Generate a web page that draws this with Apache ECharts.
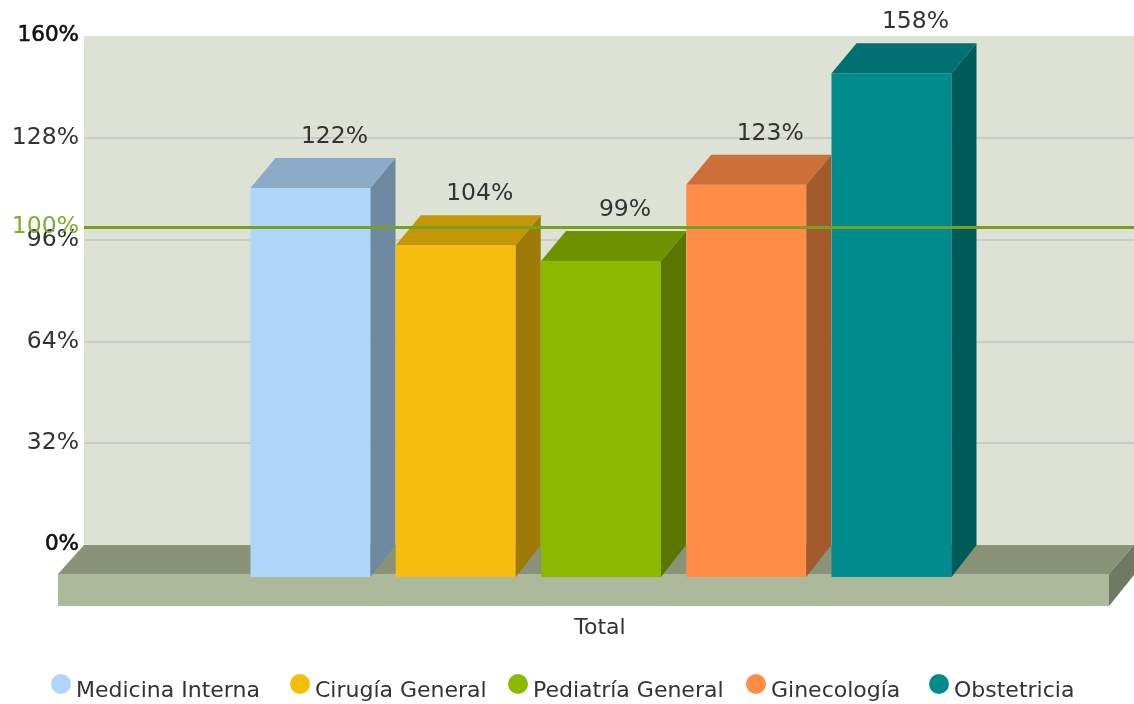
<!DOCTYPE html>
<html>
<head>
<meta charset="utf-8">
<title>Total</title>
<script src="https://cdn.jsdelivr.net/npm/echarts@6/dist/echarts.min.js"></script>
<style>
html, body { margin: 0; padding: 0; background: #fff; }
#main { width: 1134px; height: 704px; }
</style>
</head>
<body>
<div id="main"></div>
<script>
var categories = ['Total'];
var services = ['Medicina Interna', 'Cirugía General', 'Pediatría General', 'Ginecología', 'Obstetricia'];
var percentages = [122, 104, 99, 123, 158];
var targetLine = [100];
var yMax = 160;
var yStep = 32;

// colores de cada cara de la barra
var frontColors = ['#AED6F8', '#F6BC0E', '#8BB900', '#FF8C47', '#008C8C'];
var topColors = ['#8BABC6', '#C59708', '#6F9300', '#CC6F38', '#007070'];
var sideColors = ['#6E88A0', '#9E7A08', '#587600', '#A35A2D', '#005B5B'];
var legendLeft = [51, 290, 508, 746, 929];

var DEPTH_X = 25;
var DEPTH_Y = 30;
var BAR_W = 120;
var BAR_PITCH = 145.25;
var FONT = '"DejaVu Sans", Verdana, sans-serif';

var myChart = echarts.init(document.getElementById('main'));

function poly(points, color) {
	return { type: 'polygon', shape: { points: points }, style: { fill: color } };
}

// suelo del grafico, debajo de las barras
function renderFloor(params, api) {
	var y0 = api.coord([0, 0])[1];
	var left = params.coordSys.x;
	var right = left + params.coordSys.width;
	var front = y0 + 29;
	var bottom = y0 + 61;
	return {
		type: 'group',
		children: [
			poly([[left, y0], [right, y0], [right - DEPTH_X, front], [left - DEPTH_X - 1, front]], '#8A9278'),
			poly([[left - DEPTH_X - 1, front], [right - DEPTH_X, front], [right - DEPTH_X, bottom], [left - DEPTH_X - 1, bottom]], '#ADB99B'),
			poly([[right - DEPTH_X, front], [right, y0], [right, y0 + 30], [right - DEPTH_X, bottom]], '#6F7862')
		]
	};
}

function renderBar(index) {
	return function (params, api) {
		var topBack = api.coord([api.value(0), api.value(1)]);
		var y0 = api.coord([api.value(0), 0])[1];
		var x1 = topBack[0] - 8 + (index - 2) * BAR_PITCH - BAR_W / 2;
		var x2 = x1 + BAR_W;
		var yb = topBack[1] + 1;
		var yf = yb + DEPTH_Y;
		var bottom = y0 + DEPTH_Y + 2;
		return {
			type: 'group',
			children: [
				poly([[x1, yf], [x2, yf], [x2, bottom], [x1, bottom]], frontColors[index]),
				poly([[x1, yf], [x1 + DEPTH_X, yb], [x2 + DEPTH_X, yb], [x2, yf]], topColors[index]),
				poly([[x2, yf], [x2 + DEPTH_X, yb], [x2 + DEPTH_X, y0], [x2, bottom]], sideColors[index]),
				{
					type: 'text',
					style: {
						text: api.value(1) + '%',
						x: x1 + BAR_W / 2 + DEPTH_X - 1,
						y: yb - 21,
						align: 'center',
						verticalAlign: 'middle',
						font: '23.5px ' + FONT,
						fill: '#333'
					}
				}
			]
		};
	};
}

var series = [{
	name: 'Suelo',
	type: 'custom',
	z: 1,
	renderItem: renderFloor,
	data: [[0, 0]],
	silent: true
}];

services.forEach(function (name, i) {
	series.push({
		name: name,
		type: 'custom',
		z: 2,
		renderItem: renderBar(i),
		itemStyle: { color: frontColors[i] },
		encode: { x: 0, y: 1 },
		data: [[0, percentages[i]]]
	});
});

// linea del 100%
series.push({
	name: 'Meta',
	type: 'line',
	z: 5,
	data: [],
	markLine: {
		silent: true,
		symbol: 'none',
		animation: false,
		lineStyle: { color: '#76A01E', width: 3, type: 'solid' },
		label: {
			position: 'start',
			distance: 5,
			formatter: '{c}%',
			fontFamily: FONT,
			fontSize: 23.5,
			color: '#7CAF2A'
		},
		data: [{ yAxis: targetLine[0] }]
	}
});

var option = {
	animation: false,
	backgroundColor: '#fff',
	grid: {
		show: true,
		left: 84,
		right: 0,
		top: 36,
		bottom: 159,
		backgroundColor: '#DDE2D4',
		borderWidth: 0
	},
	legend: services.map(function (name, i) {
		return {
			data: [name],
			left: legendLeft[i],
			top: 674,
			padding: 0,
			icon: 'circle',
			itemWidth: 20,
			itemHeight: 20,
			selectedMode: false,
			formatter: '{n|{name}}',
			textStyle: {
				rich: {
					n: {
						fontFamily: FONT,
						fontSize: 22,
						color: '#333',
						padding: [14, 0, 0, 0]
					}
				}
			}
		};
	}),
	xAxis: {
		type: 'category',
		data: categories,
		axisLine: { show: false },
		axisTick: { show: false },
		axisLabel: {
			margin: 72,
			padding: [0, 18, 0, 0],
			fontFamily: FONT,
			fontSize: 22,
			color: '#333'
		}
	},
	yAxis: {
		type: 'value',
		min: 0,
		max: yMax,
		interval: yStep,
		axisLine: { show: false },
		axisTick: { show: false },
		splitLine: {
			showMinLine: false,
			showMaxLine: false,
			lineStyle: { color: '#CBCBCE', width: 2 }
		},
		axisLabel: {
			margin: 5,
			fontFamily: FONT,
			fontSize: 23.5,
			color: '#333',
			formatter: function (value) {
				if (value === 0 || value === yMax) {
					return '{strong|' + value + '%}';
				}
				return value + '%';
			},
			rich: {
				strong: {
					fontFamily: FONT,
					fontSize: 21.5,
					color: '#111',
					textBorderColor: '#111',
					textBorderWidth: 0.6,
					padding: [0, 0, 2, 0]
				}
			}
		}
	},
	series: series
};

myChart.setOption(option);
</script>
</body>
</html>
